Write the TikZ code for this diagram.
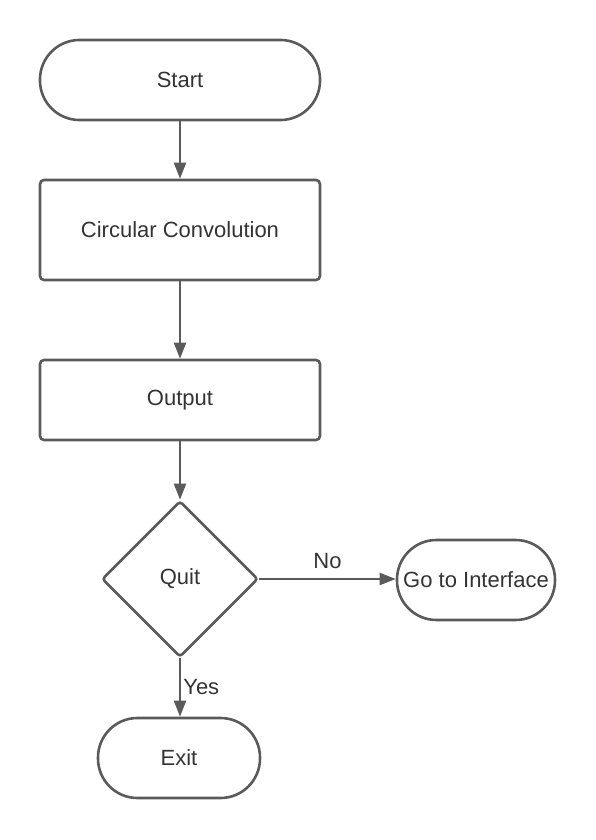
\documentclass[tikz,border=0pt]{standalone}
\usepackage{fontspec}
\setmainfont{Liberation Sans}
\usetikzlibrary{shapes.geometric,arrows.meta}

\definecolor{edgegray}{HTML}{5A5A5A}
\definecolor{textgray}{HTML}{333333}

\tikzset{
  terminal/.style={draw=edgegray, line width=2.6pt, rounded corners=39.5pt,
    minimum height=80pt, inner sep=2pt, text=textgray},
  process/.style={draw=edgegray, line width=2.6pt, rounded corners=4pt,
    minimum width=280pt, minimum height=100pt, inner sep=2pt, text=textgray},
  decision/.style={draw=edgegray, line width=2.6pt, diamond, rounded corners=3pt,
    minimum width=156pt, minimum height=156pt, inner sep=0pt, text=textgray},
  flow/.style={draw=edgegray, line width=2pt, -{Triangle[length=16pt,width=12pt]}}
}

\begin{document}
\begin{tikzpicture}[x=1pt, y=-1pt, font=\fontsize{22}{26}\selectfont]
  \useasboundingbox (0,0) rectangle (595,840);

  % Boxes
  \node[terminal, minimum width=280pt] (start) at (180,80) {Start};
  \node[process] (conv) at (180,230) {Circular Convolution};
  \node[process, minimum height=80pt] (out) at (180,400) {Output};
  \node[decision] (quit) at (180,579) {Quit};
  \node[terminal, minimum width=158pt] (iface) at (476,580) {Go to Interface};
  \node[terminal, minimum width=162pt] (exit) at (179,758) {Exit};

  % Arrows
  \draw[flow] (start) -- (conv);
  \draw[flow] (conv) -- (out);
  \draw[flow] (out) -- (quit);
  \draw[flow] (quit.east) -- (quit.east -| iface.west)
    node[midway, above=6pt, text=textgray] {No};
  \draw[flow] (quit.south) -- (quit.south |- exit.north)
    node[midway, right=-1pt, text=textgray] {Yes};
\end{tikzpicture}
\end{document}
